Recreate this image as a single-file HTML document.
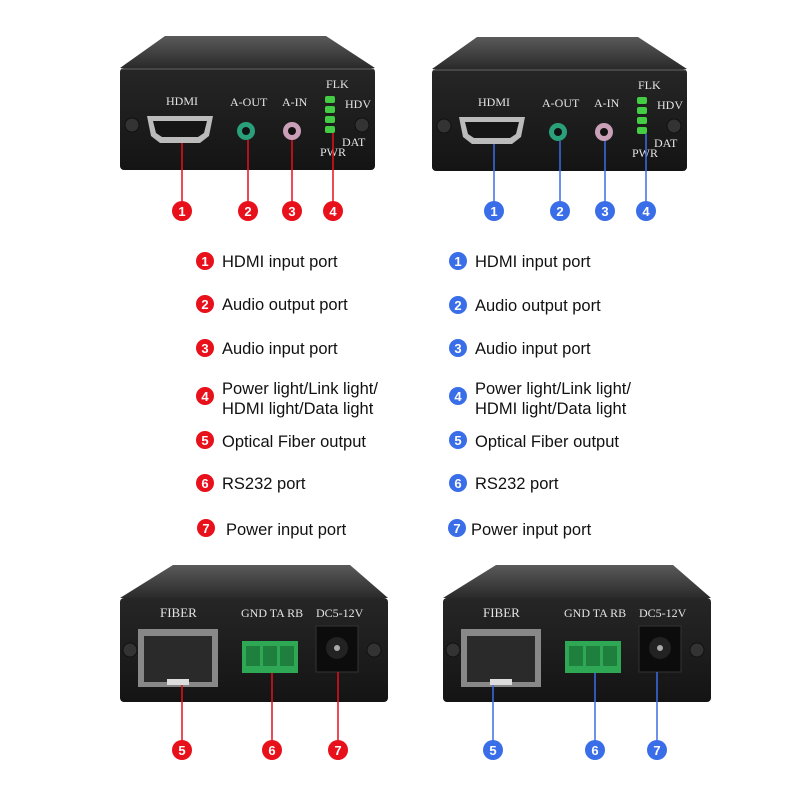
<!DOCTYPE html>
<html><head><meta charset="utf-8"><style>
html,body{margin:0;padding:0;background:#fff;}
svg{display:block;font-family:"Liberation Sans",sans-serif;}
.lg{font-size:16.5px;fill:#111;}
.lbl{font-family:"Liberation Serif",serif;font-size:12px;fill:#e4e4e4;}
.num{font-size:13px;font-weight:bold;fill:#fff;text-anchor:middle;}
</style></head><body>
<svg width="799" height="800" viewBox="0 0 799 800" xmlns="http://www.w3.org/2000/svg">
<defs>
<linearGradient id="top" x1="0" y1="0" x2="0" y2="1"><stop offset="0" stop-color="#5a5a5a"/><stop offset="1" stop-color="#2a2a2a"/></linearGradient>
<linearGradient id="face" x1="0" y1="0" x2="0" y2="1"><stop offset="0" stop-color="#262626"/><stop offset="1" stop-color="#141414"/></linearGradient>
<g id="front">
<polygon points="165,36 326,36 375,68 120,68" fill="url(#top)"/>
<rect x="120" y="68" width="255" height="102" rx="4" fill="url(#face)"/>
<line x1="121" y1="69" x2="374" y2="69" stroke="#666" stroke-width="1"/>
<circle cx="132" cy="125" r="7" fill="#333" stroke="#111"/>
<circle cx="362" cy="125" r="7" fill="#333" stroke="#111"/>
<text class="lbl" x="166" y="105">HDMI</text>
<text class="lbl" x="230" y="106">A-OUT</text>
<text class="lbl" x="282" y="106">A-IN</text>
<text class="lbl" x="326" y="88">FLK</text>
<text class="lbl" x="345" y="108">HDV</text>
<text class="lbl" x="342" y="146">DAT</text>
<text class="lbl" x="320" y="156">PWR</text>
<path d="M147,116 h66 l-4,20 l-9,7 h-40 l-9,-7 z" fill="#bbb"/>
<path d="M153,121 h54 l-3,12 l-6,4 h-36 l-6,-4 z" fill="#151515"/>
<circle cx="246" cy="131" r="9" fill="#2aa07a"/><circle cx="246" cy="131" r="4" fill="#111"/>
<circle cx="292" cy="131" r="9" fill="#c9a0b8"/><circle cx="292" cy="131" r="4" fill="#111"/>
<rect x="325" y="96" width="10" height="7" rx="2" fill="#4c4"/>
<rect x="325" y="106" width="10" height="7" rx="2" fill="#4c4"/>
<rect x="325" y="116" width="10" height="7" rx="2" fill="#4c4"/>
<rect x="325" y="126" width="10" height="7" rx="2" fill="#4c4"/>
</g>
<g id="back">
<polygon points="173,565 350,565 388,598 120,598" fill="url(#top)"/>
<rect x="120" y="598" width="268" height="104" rx="4" fill="url(#face)"/>
<circle cx="130" cy="650" r="7" fill="#333" stroke="#111"/>
<circle cx="374" cy="650" r="7" fill="#333" stroke="#111"/>
<text class="lbl" x="160" y="617" style="font-size:13px">FIBER</text>
<text class="lbl" x="241" y="617">GND TA RB</text>
<text class="lbl" x="316" y="617">DC5-12V</text>
<rect x="138" y="629" width="80" height="58" fill="#888"/>
<rect x="144" y="636" width="68" height="46" fill="#2a2a2a"/>
<rect x="167" y="679" width="22" height="6" fill="#ddd"/>
<rect x="242" y="641" width="56" height="32" fill="#2fa856"/>
<rect x="246" y="646" width="14" height="20" fill="#1f7f3d"/><rect x="263" y="646" width="14" height="20" fill="#1f7f3d"/><rect x="280" y="646" width="14" height="20" fill="#1f7f3d"/>
<rect x="316" y="626" width="42" height="46" fill="#0c0c0c" stroke="#333"/>
<circle cx="337" cy="648" r="11" fill="#222"/><circle cx="337" cy="648" r="3" fill="#aaa"/>
</g>
</defs>

<use href="#front"/>
<g transform="translate(312,1)"><use href="#front"/></g>
<use href="#back"/>
<g transform="translate(323,0)"><use href="#back"/></g>

<g stroke="#e8101a" stroke-width="1.5">
<line x1="182" y1="143" x2="182" y2="211"/><line x1="248" y1="140" x2="248" y2="211"/><line x1="292" y1="140" x2="292" y2="211"/><line x1="333" y1="133" x2="333" y2="211"/>
<line x1="182" y1="685" x2="182" y2="750"/><line x1="272" y1="673" x2="272" y2="750"/><line x1="338" y1="672" x2="338" y2="750"/>
</g>
<g stroke="#3a6ee8" stroke-width="1.5">
<line x1="494" y1="144" x2="494" y2="211"/><line x1="560" y1="141" x2="560" y2="211"/><line x1="605" y1="141" x2="605" y2="211"/><line x1="646" y1="134" x2="646" y2="211"/>
<line x1="493" y1="685" x2="493" y2="750"/><line x1="595" y1="673" x2="595" y2="750"/><line x1="657" y1="672" x2="657" y2="750"/>
</g>
<g fill="#e8101a">
<circle cx="182" cy="211" r="10"/><circle cx="248" cy="211" r="10"/><circle cx="292" cy="211" r="10"/><circle cx="333" cy="211" r="10"/>
<circle cx="182" cy="750" r="10"/><circle cx="272" cy="750" r="10"/><circle cx="338" cy="750" r="10"/>
<circle cx="205" cy="261" r="9"/><circle cx="205" cy="304" r="9"/><circle cx="205" cy="348" r="9"/><circle cx="205" cy="396" r="9"/><circle cx="205" cy="440" r="9"/><circle cx="205" cy="483" r="9"/><circle cx="206" cy="528" r="9"/>
</g>
<g fill="#3a6ee8">
<circle cx="494" cy="211" r="10"/><circle cx="560" cy="211" r="10"/><circle cx="605" cy="211" r="10"/><circle cx="646" cy="211" r="10"/>
<circle cx="493" cy="750" r="10"/><circle cx="595" cy="750" r="10"/><circle cx="657" cy="750" r="10"/>
<circle cx="458" cy="261" r="9"/><circle cx="458" cy="305" r="9"/><circle cx="458" cy="348" r="9"/><circle cx="458" cy="396" r="9"/><circle cx="458" cy="440" r="9"/><circle cx="458" cy="483" r="9"/><circle cx="457" cy="528" r="9"/>
</g>
<g>
<text class="num" x="182" y="216">1</text><text class="num" x="248" y="216">2</text><text class="num" x="292" y="216">3</text><text class="num" x="333" y="216">4</text>
<text class="num" x="182" y="755">5</text><text class="num" x="272" y="755">6</text><text class="num" x="338" y="755">7</text>
<text class="num" x="494" y="216">1</text><text class="num" x="560" y="216">2</text><text class="num" x="605" y="216">3</text><text class="num" x="646" y="216">4</text>
<text class="num" x="493" y="755">5</text><text class="num" x="595" y="755">6</text><text class="num" x="657" y="755">7</text>
<text class="num" x="205" y="266">1</text><text class="num" x="205" y="309">2</text><text class="num" x="205" y="353">3</text><text class="num" x="205" y="401">4</text><text class="num" x="205" y="445">5</text><text class="num" x="205" y="488">6</text><text class="num" x="206" y="533">7</text>
<text class="num" x="458" y="266">1</text><text class="num" x="458" y="310">2</text><text class="num" x="458" y="353">3</text><text class="num" x="458" y="401">4</text><text class="num" x="458" y="445">5</text><text class="num" x="458" y="488">6</text><text class="num" x="457" y="533">7</text>
</g>
<g>
<text class="lg" x="222" y="267">HDMI input port</text>
<text class="lg" x="222" y="310">Audio output port</text>
<text class="lg" x="222" y="354">Audio input port</text>
<text class="lg" x="222" y="394">Power light/Link light/</text>
<text class="lg" x="222" y="414">HDMI light/Data light</text>
<text class="lg" x="222" y="447">Optical Fiber output</text>
<text class="lg" x="222" y="489">RS232 port</text>
<text class="lg" x="226" y="535">Power input port</text>
<text class="lg" x="475" y="267">HDMI input port</text>
<text class="lg" x="475" y="311">Audio output port</text>
<text class="lg" x="475" y="354">Audio input port</text>
<text class="lg" x="475" y="394">Power light/Link light/</text>
<text class="lg" x="475" y="414">HDMI light/Data light</text>
<text class="lg" x="475" y="447">Optical Fiber output</text>
<text class="lg" x="475" y="489">RS232 port</text>
<text class="lg" x="471" y="535">Power input port</text>
</g>
</svg>
</body></html>
